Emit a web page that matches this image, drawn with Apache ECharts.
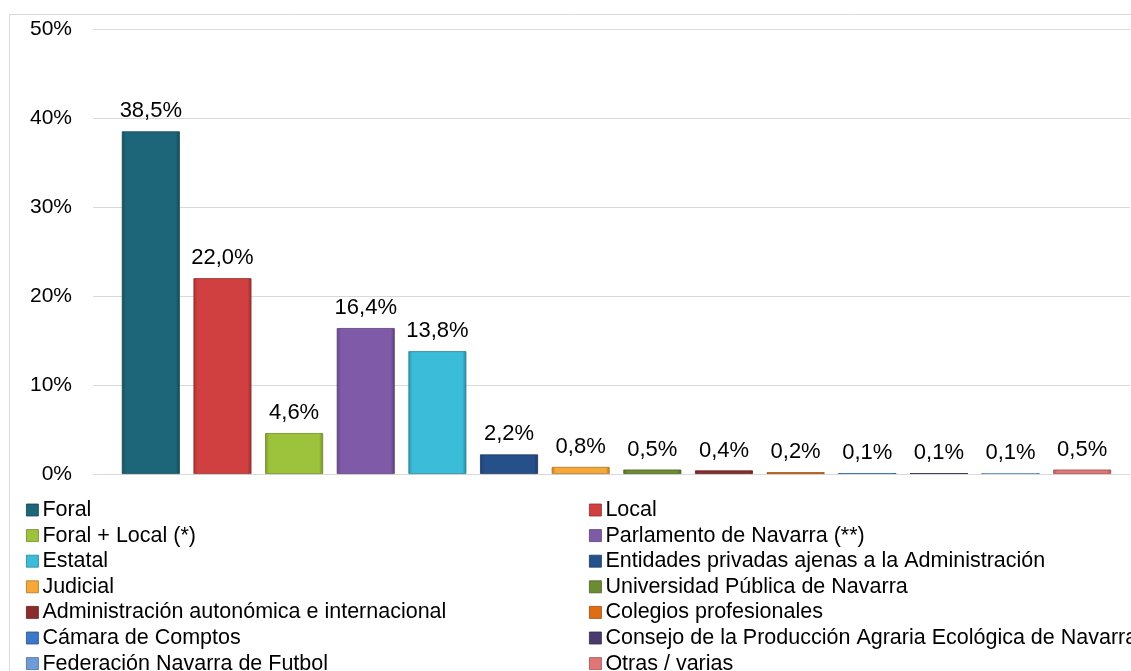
<!DOCTYPE html>
<html>
<head>
<meta charset="utf-8">
<script src="https://cdn.jsdelivr.net/npm/echarts@6/dist/echarts.min.js"></script>
<style>
  html, body { margin: 0; padding: 0; background: #fff; }
  #chart { width: 1131px; height: 671px; }
</style>
</head>
<body>
<div id="chart"></div>
<script>
// categories (legend names), in bar order
const categories = [
  'Foral', 'Local', 'Foral + Local (*)', 'Parlamento de Navarra (**)',
  'Estatal', 'Entidades privadas ajenas a la Administración', 'Judicial',
  'Universidad Pública de Navarra', 'Administración autonómica e internacional',
  'Colegios profesionales', 'Cámara de Comptos',
  'Consejo de la Producción Agraria Ecológica de Navarra',
  'Federación Navarra de Futbol', 'Otras / varias'
];
// share of each category, %
const values = [38.5, 22.0, 4.6, 16.4, 13.8, 2.2, 0.8, 0.5, 0.4, 0.2, 0.1, 0.1, 0.1, 0.5];
const colors = [
  '#1d6579', '#d04040', '#9dc33c', '#7f5aa8', '#3bbcd8', '#26508a', '#f6a838',
  '#6b8c30', '#8a2c2c', '#e06c14', '#3c78c8', '#4b3a6e', '#6f9bd6', '#e07676'
];
const yTicks = [0, 10, 20, 30, 40, 50];

const FONT = '"Liberation Sans", Arial, sans-serif';

function shade(hex, f) {
  const n = parseInt(hex.slice(1), 16);
  const r = Math.round(((n >> 16) & 255) * f);
  const g = Math.round(((n >> 8) & 255) * f);
  const b = Math.round((n & 255) * f);
  return 'rgb(' + Math.min(r, 255) + ',' + Math.min(g, 255) + ',' + Math.min(b, 255) + ')';
}

function bevel(c) {
  return new echarts.graphic.LinearGradient(0, 0, 1, 0, [
    { offset: 0, color: shade(c, 0.78) },
    { offset: 0.07, color: c },
    { offset: 0.93, color: c },
    { offset: 1, color: shade(c, 0.72) }
  ]);
}

const series = categories.map((name, i) => ({
  name: name,
  type: 'bar',
  stack: 'all',
  xAxisIndex: 1,
  yAxisIndex: 1,
  barWidth: 58,
  data: values.map((v, j) => (j === i ? v : null)),
  itemStyle: { color: bevel(colors[i]), borderColor: shade(colors[i], 0.7), borderWidth: values[i] < 0.15 ? 0 : 0.8 },
  label: {
    show: true,
    position: 'top',
    distance: 9,
    color: '#000',
    fontFamily: FONT,
    fontSize: 22,
    formatter: p => p.value.toFixed(1).replace('.', ',') + '%'
  }
}));

const legendBase = {
  orient: 'vertical',
  top: 499,
  height: 300,
  padding: 0,
  itemWidth: 12,
  itemHeight: 12,
  itemGap: 3.6,
  icon: 'rect',
  selectedMode: false,
  itemStyle: { borderWidth: 0.8 },
  textStyle: { fontFamily: FONT, fontSize: 21.5, color: '#000', lineHeight: 20, padding: [0, 0, 0, -1] }
};

const chart = echarts.init(document.getElementById('chart'));
chart.setOption({
  animation: false,
  graphic: [{
    type: 'rect',
    shape: { x: 9.5, y: 14.5, width: 1300, height: 800 },
    style: { fill: 'none', stroke: '#d9d9d9', lineWidth: 1 },
    silent: true
  }],
  grid: [
    { left: 93, right: 1, top: 29, bottom: 197 },
    { left: 115, right: 13, top: 29, bottom: 197 }
  ],
  xAxis: [
    { gridIndex: 0, type: 'category', data: categories, show: false },
    { gridIndex: 1, type: 'category', data: categories, show: false }
  ],
  yAxis: [
    {
      gridIndex: 0,
      type: 'value',
      min: yTicks[0],
      max: yTicks[yTicks.length - 1],
      interval: 10,
      axisLine: { show: false },
      axisTick: { show: false },
      splitLine: { lineStyle: { color: '#d9d9d9', width: 1.2 } },
      axisLabel: { margin: 21, color: '#000', fontFamily: FONT, fontSize: 21, formatter: '{value}%' }
    },
    {
      gridIndex: 1,
      type: 'value',
      min: yTicks[0],
      max: yTicks[yTicks.length - 1],
      interval: 10,
      show: false,
      splitLine: { show: false }
    }
  ],
  legend: [
    Object.assign({}, legendBase, { left: 26, data: categories.filter((c, i) => i % 2 === 0) }),
    Object.assign({}, legendBase, { left: 589, data: categories.filter((c, i) => i % 2 === 1) })
  ],
  series: series
});
</script>
</body>
</html>
